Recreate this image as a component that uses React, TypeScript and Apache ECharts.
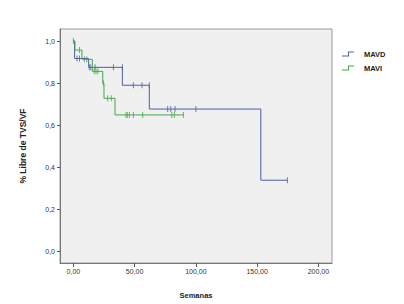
import React, { useEffect, useRef } from "react";
import * as echarts from "echarts";

// MAVD: event times (weeks) and survival after each step
const mavdTimes = [0, 1, 12.5, 40, 62, 153, 174.7];
const mavdSurv = [1.0, 0.917, 0.875, 0.79, 0.677, 0.339, 0.339];
const mavdCensorTimes = [3, 5, 13, 14.2, 17.7, 32.7, 40, 49, 56, 62, 77, 79.5, 83, 100, 174.7];
const mavdCensorSurv = [0.917, 0.917, 0.875, 0.875, 0.875, 0.875, 0.875, 0.79, 0.79, 0.79, 0.677, 0.677, 0.677, 0.677, 0.339];

// MAVI
const maviTimes = [0, 1.3, 7, 15.5, 24, 25, 34, 90];
const maviSurv = [1.0, 0.957, 0.913, 0.856, 0.799, 0.728, 0.649, 0.649];
const maviCensorTimes = [0, 5, 9, 11, 17, 18.5, 20, 24.5, 28, 31, 43, 44, 45.7, 49, 56.6, 80.3, 82.4, 89.8];
const maviCensorSurv = [1.0, 0.957, 0.913, 0.913, 0.856, 0.856, 0.856, 0.799, 0.728, 0.728, 0.649, 0.649, 0.649, 0.649, 0.649, 0.649, 0.649, 0.649];

const xTicks = [0, 50, 100, 150, 200];
const yTicks = [0, 0.2, 0.4, 0.6, 0.8, 1.0];

const BLUE = "#4f5fa6";
const GREEN = "#3eaa45";
const stepIcon = "path://M0,4 L6,4 L6,0 L12,0 L12,1 L7,1 L7,5 L0,5 Z";

export default function App() {
  const ref = useRef<HTMLDivElement>(null);
  useEffect(() => {
    const chart = echarts.init(ref.current!, null, { renderer: "svg" });
    const zip = (a: number[], b: number[]) => a.map((v, i) => [v, b[i]]);
    const font = "Liberation Sans, Arial, sans-serif";
    chart.setOption({
      animation: false,
      backgroundColor: "#ffffff",
      textStyle: { fontFamily: font },
      grid: {
        left: 60, top: 29, width: 272, height: 234,
        show: true, backgroundColor: "#f0f0f0", borderColor: "#9a9a9a", borderWidth: 1,
      },
      legend: {
        orient: "vertical", left: 337, top: 45, itemWidth: 12, itemHeight: 5, itemGap: 6,
        symbolKeepAspect: false,
        itemStyle: { borderWidth: 0 },
        data: [
          { name: "MAVD", icon: stepIcon },
          { name: "MAVI", icon: stepIcon },
        ],
        textStyle: { fontFamily: font, fontSize: 7.5, fontWeight: "bold", color: "#222", padding: [0, 0, 0, 5] },
      },
      xAxis: {
        type: "value", min: -10.9, max: 211.1,
        name: "Semanas", nameLocation: "middle", nameGap: 28,
        nameTextStyle: { fontFamily: font, fontSize: 7.5, fontWeight: "bold", color: "#222" },
        axisLine: { onZero: false, lineStyle: { color: "#777", width: 1 } },
        axisTick: { show: true, length: 4, customValues: xTicks, lineStyle: { color: "#555" } },
        axisLabel: {
          customValues: xTicks, fontSize: 7, color: "#333", margin: 5,
          formatter: (v: number) => v.toFixed(2).replace(".", ","),
        },
        splitLine: { show: false },
      },
      yAxis: {
        type: "value", min: -0.054, max: 1.057,
        name: "% Libre de TVS/VF", nameLocation: "middle", nameGap: 33,
        nameTextStyle: { fontFamily: font, fontSize: 8.5, fontWeight: "bold", color: "#222" },
        axisLine: { show: true, onZero: false, lineStyle: { color: "#777", width: 1 } },
        axisTick: { show: true, length: 3, customValues: yTicks, lineStyle: { color: "#555" } },
        axisLabel: {
          customValues: yTicks, fontSize: 7, color: "#333", margin: 5,
          formatter: (v: number) => v.toFixed(1).replace(".", ","),
        },
        splitLine: { show: false },
      },
      series: [
        {
          name: "MAVD", type: "line", step: "end", data: zip(mavdTimes, mavdSurv),
          showSymbol: false, symbol: "none", color: BLUE, lineStyle: { color: BLUE, width: 1 },
          itemStyle: { color: BLUE },
        },
        {
          name: "MAVI", type: "line", step: "end", data: zip(maviTimes, maviSurv),
          showSymbol: false, symbol: "none", color: GREEN, lineStyle: { color: GREEN, width: 1 },
          itemStyle: { color: GREEN },
        },
        {
          name: "MAVD censored", type: "scatter", data: zip(mavdCensorTimes, mavdCensorSurv),
          symbol: "rect", symbolSize: [1, 6], itemStyle: { color: BLUE },
        },
        {
          name: "MAVI censored", type: "scatter", data: zip(maviCensorTimes, maviCensorSurv),
          symbol: "rect", symbolSize: [1, 6], itemStyle: { color: GREEN },
        },
      ],
    });
    return () => chart.dispose();
  }, []);
  return (
    <div
      ref={ref}
      style={{ position: "fixed", left: 0, top: 0, width: 404, height: 304 }}
    />
  );
}
